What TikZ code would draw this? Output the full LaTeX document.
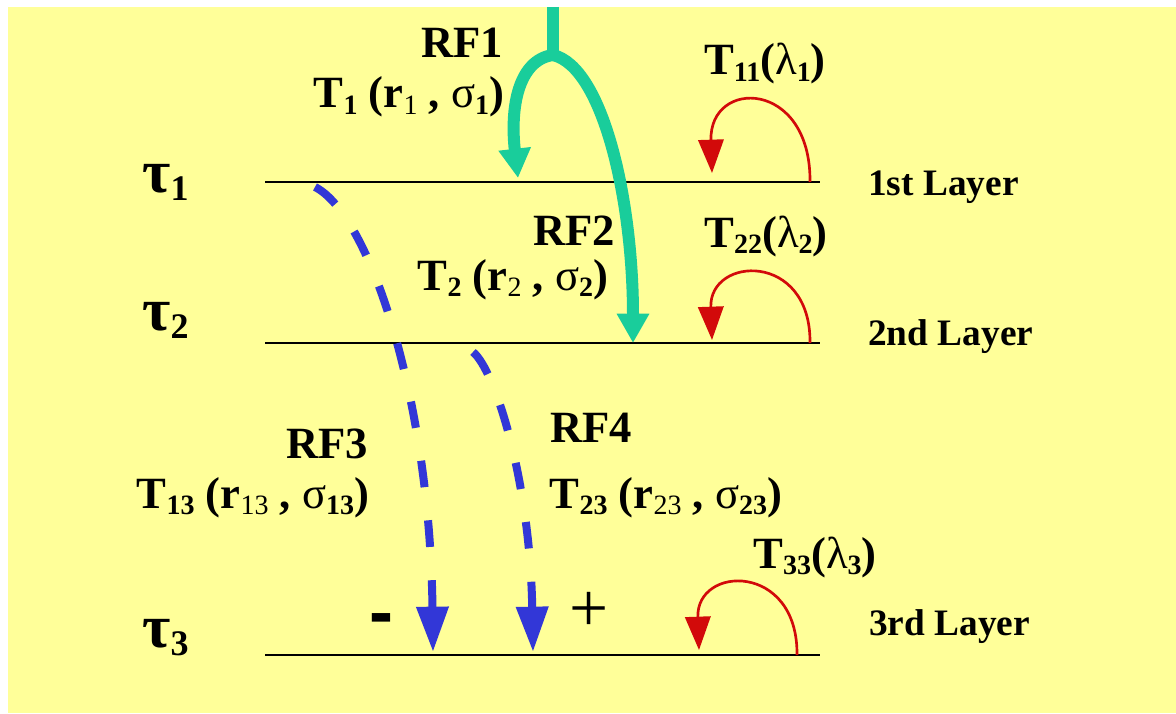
\documentclass[tikz,border=0pt]{standalone}
\usepackage{fontspec}
\setmainfont{Liberation Serif}
\newfontfamily\signfont{Liberation Sans}
\usetikzlibrary{arrows.meta}
\definecolor{bgyellow}{RGB}{255,255,153}
\definecolor{rfgreen}{RGB}{25,205,155}
\definecolor{rfblue}{RGB}{50,55,215}
\definecolor{selfred}{RGB}{210,10,10}
% bold / regular subscripts
\newcommand{\subb}[1]{\raisebox{-5pt}{\fontsize{21}{21}\selectfont\bfseries #1}}
\newcommand{\subr}[1]{\raisebox{-5pt}{\fontsize{21}{21}\selectfont\mdseries #1}}
\newcommand{\tausub}[1]{τ\raisebox{-6pt}{\fontsize{27}{27}\selectfont #1}}
\newcommand{\rg}[1]{{\mdseries #1}}
\begin{document}
\begin{tikzpicture}[x=0.75pt,y=-0.75pt,line join=round]
	\def\xl{265} \def\xr{820}
	\tikzset{lbl/.style={font=\fontsize{33.5}{38}\selectfont\bfseries,inner sep=0pt,anchor=base},
		lyr/.style={font=\fontsize{28}{32}\selectfont\bfseries,inner sep=0pt,anchor=base west},
		taulbl/.style={font=\fontsize{46}{50}\selectfont\bfseries,inner sep=0pt,anchor=base west},
		layer/.style={draw=black,line width=2pt},
		greenline/.style={draw=rfgreen,line width=9pt},
		greenarr/.style={greenline,-{Triangle[length=22pt,width=23pt]}},
		bluearr/.style={draw=rfblue,line width=6pt,dash pattern=on 20pt off 25pt,-{Triangle[length=34pt,width=23pt]}},
		selfloop/.style={draw=selfred,line width=2pt,-{Triangle[length=25pt,width=19pt]}}}
	\useasboundingbox (0,0) rectangle (1176,713);
	\fill[bgyellow] (8,7) rectangle (1176,713);
	% layers
	\foreach \i/\yy in {1/182,2/343,3/655}{
		\coordinate (L\i w) at (\xl,\yy);
		\coordinate (L\i e) at (\xr,\yy);
		\draw[layer] (L\i w) -- (L\i e);
	}
	\node[taulbl] (tau1) at (142,192) {\tausub{1}};
	\node[taulbl] (tau2) at (142,330) {\tausub{2}};
	\node[taulbl] (tau3) at (142,647) {\tausub{3}};
	\node[lyr] (lay1) at (868,195) {1st Layer};
	\node[lyr] (lay2) at (868,345) {2nd Layer};
	\node[lyr] (lay3) at (869,635) {3rd Layer};
	% self transmission loops
	\foreach \i/\yy/\xs/\h/\d in {1/182/810/103/9,2/343/810/92/3,3/655/797/93/5}{
		\coordinate (s\i) at (\xs,\yy);
		\coordinate (e\i) at (\xs-98,\yy-\d);
		\draw[selfloop] (s\i) .. controls +(1,-\h) and +(-3,-\h+8) .. (e\i);
	}
	\node[lbl] (t11) at (765,75) {T\subb{11}(\rg{λ}\subb{1})};
	\node[lbl] (t22) at (766,247) {T\subb{22}(\rg{λ}\subb{2})};
	\node[lbl] (t33) at (815,568) {T\subb{33}(\rg{λ}\subb{3})};
	% incoming green
	\coordinate (gtop) at (553,7);
	\coordinate (gsplit) at (553,55);
	\coordinate (g1) at (518,178);
	\coordinate (g2) at (633,343);
	\draw[greenline] (gtop) -- (gsplit);
	\draw[greenarr] (gsplit) .. controls +(-35,5) and +(-8,-70) .. (g1);
	\draw[greenarr] (gsplit) .. controls +(50,12) and +(0,-143) .. (g2);
	\node[lbl] (rf1) at (462,58) {RF1};
	\node[lbl] (t1) at (409,108) {T\subb{1} (r\subr{1} , \rg{σ}\subb{1})};
	\node[lbl] (rf2) at (574,245) {RF2};
	\node[lbl] (t2) at (513,290) {T\subb{2} (r\subr{2} , \rg{σ}\subb{2})};
	% blue dashed
	\coordinate (b1s) at (315,187);
	\coordinate (b1e) at (433,652);
	\coordinate (b2s) at (473,352);
	\coordinate (b2e) at (533,652);
	\draw[bluearr] (b1s) .. controls +(55,28) and +(-3,-252) .. (b1e);
	\draw[bluearr] (b2s) .. controls +(22,18) and +(-3,-172) .. (b2e);
	\node[lbl] (rf3) at (327,458) {RF3};
	\node[lbl] (t13) at (253,508) {T\subb{13} (r\subr{13} , \rg{σ}\subb{13})};
	\node[lbl] (rf4) at (591,442) {RF4};
	\node[lbl] (t23) at (666,508) {T\subb{23} (r\subr{23} , \rg{σ}\subb{23})};
	\node[font=\fontsize{54}{60}\signfont\bfseries,inner sep=0pt,anchor=base] (minus) at (381,636) {-};
	\node[font=\fontsize{52}{60}\selectfont,inner sep=0pt] (plus) at (589,612) {+};
\end{tikzpicture}
\end{document}
